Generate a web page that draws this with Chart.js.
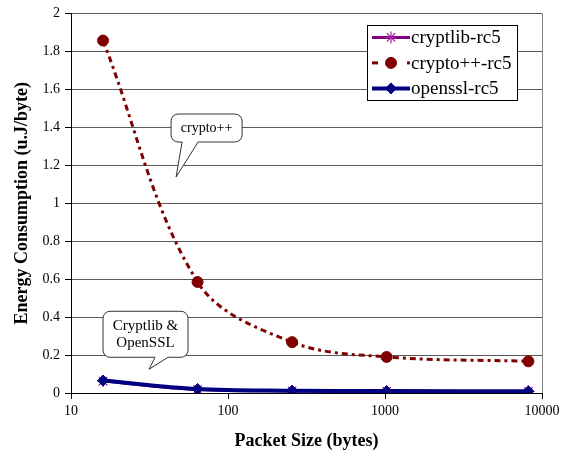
<!DOCTYPE html>
<html><head><meta charset="utf-8">
<script src="https://cdn.jsdelivr.net/npm/chart.js@4/dist/chart.umd.min.js"></script>
<style>html,body{margin:0;padding:0;background:#fff}#wrap{width:568px;height:459px;position:relative}</style>
</head><body><div id="wrap"><canvas id="c"></canvas></div>
<script>
// ---- data ----
const packetSizes = [16, 64, 256, 1024, 8192];
const cryptlibRc5 = [0.063, 0.018, 0.011, 0.009, 0.008];
const cryptoppRc5 = [1.857, 0.585, 0.268, 0.19, 0.167];
const opensslRc5  = [0.066, 0.021, 0.012, 0.010, 0.009];
const seriesLabels = ['cryptlib-rc5', 'crypto++-rc5', 'openssl-rc5'];
const xTicks = [10, 100, 1000, 10000];
const yTicks = [0, 0.2, 0.4, 0.6, 0.8, 1, 1.2, 1.4, 1.6, 1.8, 2];
const xTitle = 'Packet Size (bytes)';
const yTitle = 'Energy Consumption (u.J/byte)';
// callout anchors (tail tip) in data coordinates
const calloutTexts = [['crypto++'], ['Cryptlib &', 'OpenSSL']];
const calloutAnchorX = [46.7, 31.4];
const calloutAnchorY = [1.138, 0.125];

const FONT = "'Liberation Serif', 'Times New Roman', serif";

function pts(vals){ return packetSizes.map((x,i)=>({x:x, y:vals[i]})); }

const datasets = [
  {label: seriesLabels[2], data: pts(opensslRc5), borderColor:'#000080', backgroundColor:'#000080',
   borderWidth:4, pointStyle:'rectRot', pointRadius:5.5, pointBorderColor:'#000080', pointBackgroundColor:'#000080',
   pointBorderWidth:1, tension:0.35, order:0, legendIndex:2},
  {label: seriesLabels[0], data: pts(cryptlibRc5), borderColor:'#800080', backgroundColor:'#800080',
   borderWidth:3, pointStyle:'star', pointRadius:6, pointBorderColor:'#a020a0', pointBackgroundColor:'#800080', pointBorderWidth:1.2,
   tension:0.35, order:1, legendIndex:0},
  {label: seriesLabels[1], data: pts(cryptoppRc5), borderColor:'#800000', backgroundColor:'#800000',
   borderWidth:3, borderDash:[6,4,3,4], borderCapStyle:'butt', pointStyle:'circle', pointRadius:5.5,
   pointBorderColor:'#800000', pointBackgroundColor:'#800000', pointBorderWidth:1, tension:0.35, order:2, legendIndex:1}
];

const framePlugin = {
  id:'frame',
  beforeDatasetsDraw(chart){
    const {ctx, chartArea:a} = chart;
    ctx.save();
    ctx.strokeStyle = '#808080'; ctx.lineWidth = 1;
    ctx.beginPath();
    ctx.moveTo(Math.round(a.right)+0.5, a.top);
    ctx.lineTo(Math.round(a.right)+0.5, a.bottom);
    ctx.stroke();
    ctx.restore();
  }
};

function bubble(ctx, tipX, tipY, bx0, by0, bx1, by1, t0, t1, r){
  ctx.beginPath();
  ctx.moveTo(bx0+r, by0);
  ctx.lineTo(bx1-r, by0);
  ctx.arcTo(bx1, by0, bx1, by0+r, r);
  ctx.lineTo(bx1, by1-r);
  ctx.arcTo(bx1, by1, bx1-r, by1, r);
  ctx.lineTo(t1, by1);
  ctx.lineTo(tipX, tipY);
  ctx.lineTo(t0, by1);
  ctx.lineTo(bx0+r, by1);
  ctx.arcTo(bx0, by1, bx0, by1-r, r);
  ctx.lineTo(bx0, by0+r);
  ctx.arcTo(bx0, by0, bx0+r, by0, r);
  ctx.closePath();
}

const calloutPlugin = {
  id:'callouts',
  afterDatasetsDraw(chart){
    const {ctx, scales:{x, y}} = chart;
    // box geometry relative to tip: [dx0, dy0, dx1, dy1, tail0, tail1, fontSize]
    const geo = [[-5,-63,66,-35,6,22,14],[-46,-58,39,-12,6,19,15]];
    ctx.save();
    calloutTexts.forEach((lines,i)=>{
      const tx = x.getPixelForValue(calloutAnchorX[i]);
      const ty = y.getPixelForValue(calloutAnchorY[i]);
      const g = geo[i];
      bubble(ctx, tx, ty, tx+g[0], ty+g[1], tx+g[2], ty+g[3], tx+g[4], tx+g[5], 7);
      ctx.fillStyle = '#fff'; ctx.fill();
      ctx.strokeStyle = '#333'; ctx.lineWidth = 1; ctx.stroke();
      ctx.fillStyle = '#000';
      ctx.font = g[6] + 'px ' + FONT;
      ctx.textAlign = 'center'; ctx.textBaseline = 'middle';
      const cx = tx + (g[0]+g[2])/2, cy = ty + (g[1]+g[3])/2;
      const lh = g[6]*1.15;
      lines.forEach((s,k)=>{
        ctx.fillText(s, cx, cy + (k - (lines.length-1)/2)*lh);
      });
    });
    ctx.restore();
  }
};

const legendPlugin = {
  id:'customLegend',
  afterDatasetsDraw(chart){
    const {ctx, chartArea:a} = chart;
    const bx = a.right - 175, by = a.top + 12, bw = 150, bh = 75;
    ctx.save();
    ctx.fillStyle = '#fff';
    ctx.fillRect(bx, by, bw, bh);
    ctx.strokeStyle = '#000'; ctx.lineWidth = 1;
    ctx.strokeRect(Math.round(bx)+0.5, Math.round(by)+0.5, bw, bh);
    const sorted = chart.data.datasets.slice().sort((p,q)=>p.legendIndex-q.legendIndex);
    sorted.forEach((ds,i)=>{
      const yy = by + 12 + i*25.5;
      ctx.save();
      ctx.strokeStyle = ds.borderColor; ctx.lineWidth = ds.borderWidth;
      ctx.lineCap = 'butt';
      if (ds.borderDash) {
        ctx.beginPath(); ctx.moveTo(bx+5, yy); ctx.lineTo(bx+11, yy); ctx.stroke();
        ctx.beginPath(); ctx.moveTo(bx+40, yy); ctx.lineTo(bx+43, yy); ctx.stroke();
      } else {
        ctx.beginPath(); ctx.moveTo(bx+5, yy); ctx.lineTo(bx+43, yy); ctx.stroke();
      }
      ctx.restore();
      ctx.save();
      ctx.fillStyle = ds.pointBackgroundColor;
      ctx.strokeStyle = ds.pointBorderColor;
      ctx.lineWidth = ds.pointBorderWidth;
      Chart.helpers.drawPoint(ctx, {pointStyle: ds.pointStyle, radius: ds.pointRadius, borderWidth: ds.pointBorderWidth, rotation:0}, bx+24, yy);
      ctx.restore();
      ctx.fillStyle = '#000';
      ctx.font = '19px ' + FONT;
      ctx.textAlign = 'left'; ctx.textBaseline = 'middle';
      ctx.fillText(ds.label, bx+44, yy+1);
    });
    ctx.restore();
  }
};

new Chart(document.getElementById('c'), {
  type:'line',
  data:{ datasets },
  options:{
    responsive:true, maintainAspectRatio:false, animation:false, devicePixelRatio:1,
    layout:{ padding:{ top:10, right:26, left:0, bottom:0 } },
    plugins:{ legend:{display:false}, tooltip:{enabled:false} },
    scales:{
      x:{ type:'logarithmic', min:10, max:10000,
        afterBuildTicks: s => { s.ticks = xTicks.map(v=>({value:v})); },
        afterFit: s => { s.height = 66; },
        ticks:{ callback: v => String(v), color:'#000', font:{family:FONT, size:14}, padding:4, maxRotation:0, autoSkip:false },
        grid:{ drawOnChartArea:false, tickLength:6, color:'#000', tickColor:'#000' },
        border:{ color:'#000', width:1 },
        title:{ display:true, text:xTitle, color:'#000', font:{family:FONT, size:18, weight:'bold'}, padding:{top:0, bottom:7} }
      },
      y:{ type:'linear', min:0, max:2,
        afterBuildTicks: s => { s.ticks = yTicks.map(v=>({value:v})); },
        afterFit: s => { s.width = 71; },
        ticks:{ callback: v => String(v), color:'#000', font:{family:FONT, size:14}, padding:5 },
        grid:{ color:'#5a5a5a', tickLength:6, tickColor:'#000', lineWidth:1 },
        border:{ color:'#000', width:1 },
        title:{ display:true, text:yTitle, color:'#000', font:{family:FONT, size:18, weight:'bold'}, padding:{top:12, bottom:0} }
      }
    }
  },
  plugins:[framePlugin, legendPlugin, calloutPlugin]
});
</script></body></html>
